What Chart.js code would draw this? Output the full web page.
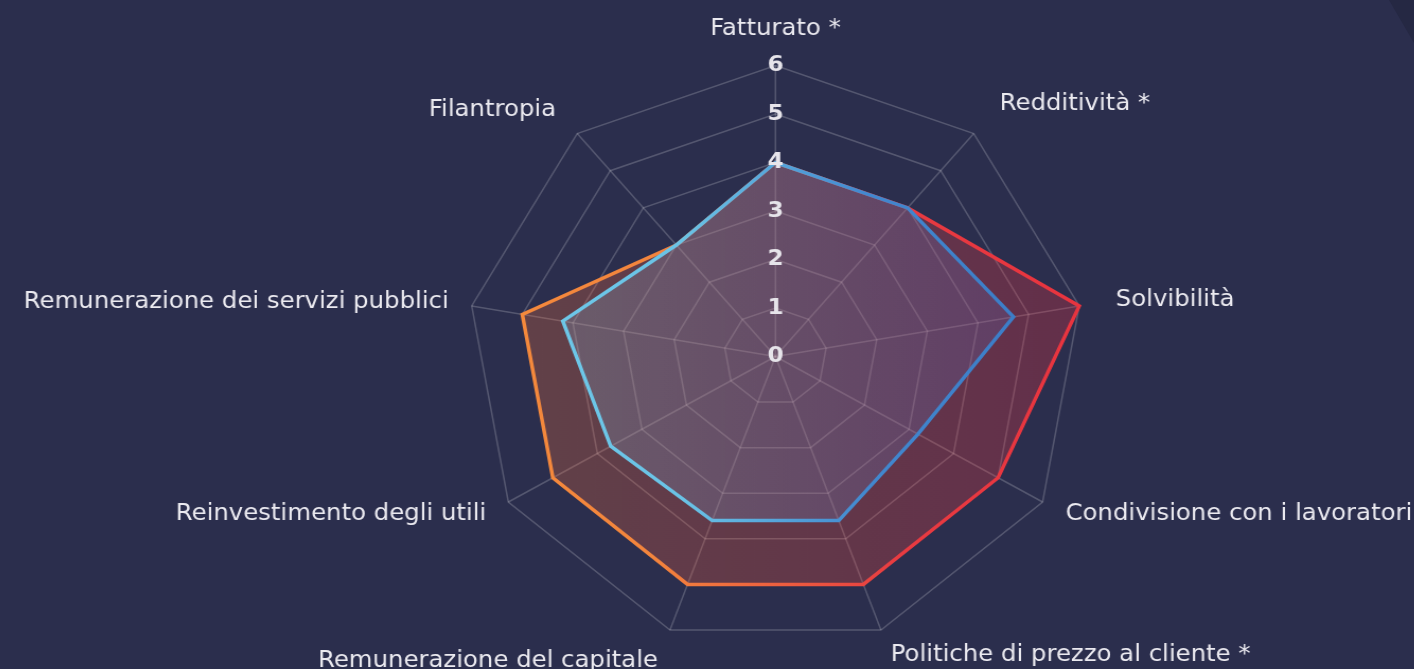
<!DOCTYPE html>
<html lang="it">
<head>
<meta charset="utf-8">
<title>Radar</title>
<script src="https://cdn.jsdelivr.net/npm/chart.js@4.4.0/dist/chart.umd.min.js"></script>
<style>
  html, body { margin: 0; padding: 0; width: 1414px; height: 669px; overflow: hidden; background: #2b2e4d; }
  #corner { position: absolute; left: 1389px; top: 0; width: 25px; height: 43px; background: #252843;
            clip-path: polygon(0 0, 100% 0, 100% 100%); }
  #wrap { position: absolute; left: -40px; top: 0; width: 1420px; height: 720px;
          transform: scaleX(1.06); transform-origin: 0 0; }
</style>
</head>
<body>
<div id="corner"></div>
<div id="wrap"><canvas id="radar"></canvas></div>
<script>
var categorie = [
	'Fatturato *',
	'Redditività *',
	'Solvibilità',
	'Condivisione con i lavoratori',
	'Politiche di prezzo al cliente *',
	'Remunerazione del capitale',
	'Reinvestimento degli utili',
	'Remunerazione dei servizi pubblici',
	'Filantropia'
];
var valoriA = [4, 4, 6, 5, 5, 5, 5, 5, 3];
var valoriB = [4, 4, 4.7, 3.2, 3.6, 3.6, 3.7, 4.2, 3];
var tacche = ['0', '1', '2', '3', '4', '5', '6'];

// distanza delle etichette dal bordo, una per asse
var distEtichette = [25, 27, 24, 14, 16, 22, 13, 11, 20];

function sfumatura(chart, stops) {
	var s = chart.scales.r;
	if (!s || !s.drawingArea) return stops[0][1];
	var g = chart.ctx.createLinearGradient(s.xCenter - s.drawingArea, 0, s.xCenter + s.drawingArea, 0);
	stops.forEach(function(st) { g.addColorStop(st[0], st[1]); });
	return g;
}

var ctx = document.getElementById('radar');

new Chart(ctx, {
	type: 'radar',
	data: {
		labels: categorie,
		datasets: [
			{
				data: valoriB,
				borderWidth: 3.5,
				borderColor: function(c) {
					return sfumatura(c.chart, [[0, '#70cbea'], [0.35, '#6ac3e6'], [0.65, '#4288cf'], [1, '#3a78c4']]);
				},
				backgroundColor: function(c) {
					return sfumatura(c.chart, [[0, 'rgba(150,210,235,0.22)'], [1, 'rgba(80,105,200,0.2)']]);
				},
				fill: true
			},
			{
				data: valoriA,
				borderWidth: 3.5,
				borderColor: function(c) {
					return sfumatura(c.chart, [[0, '#f58b3c'], [0.3, '#f3853d'], [0.7, '#e83b41'], [1, '#e8343f']]);
				},
				backgroundColor: function(c) {
					return sfumatura(c.chart, [[0, 'rgba(240,120,60,0.28)'], [1, 'rgba(230,50,70,0.3)']]);
				},
				fill: true
			}
		]
	},
	options: {
		responsive: true,
		maintainAspectRatio: false,
		animation: false,
		layout: { padding: 0 },
		elements: {
			line: { tension: 0, borderJoinStyle: 'miter' },
			point: { radius: 0, hoverRadius: 0 }
		},
		plugins: {
			legend: { display: false },
			tooltip: { enabled: false }
		},
		scales: {
			r: {
				min: -0.0001,
				max: 6,
				beforeFit: function(scale) {
					scale.xCenter = 769.3;
					scale.yCenter = 356.5;
					scale.drawingArea = 291;
				},
				grid: { color: 'rgba(255,255,255,0.2)', lineWidth: 1.5 },
				angleLines: { color: 'rgba(255,255,255,0.2)', lineWidth: 1.5 },
				ticks: {
					z: 1,
					stepSize: 1,
					showLabelBackdrop: false,
					backdropPadding: 0,
					color: '#e6e4ea',
					font: { family: 'DejaVu Sans', size: 22, weight: 'bold' },
					callback: function(value) { return tacche[Math.round(Math.abs(value))]; }
				},
				pointLabels: {
					color: '#ebeaf0',
					font: { family: 'DejaVu Sans', size: 23, lineHeight: 0 },
					padding: function(c) { return distEtichette[c.index]; }
				}
			}
		}
	}
});
</script>
</body>
</html>
